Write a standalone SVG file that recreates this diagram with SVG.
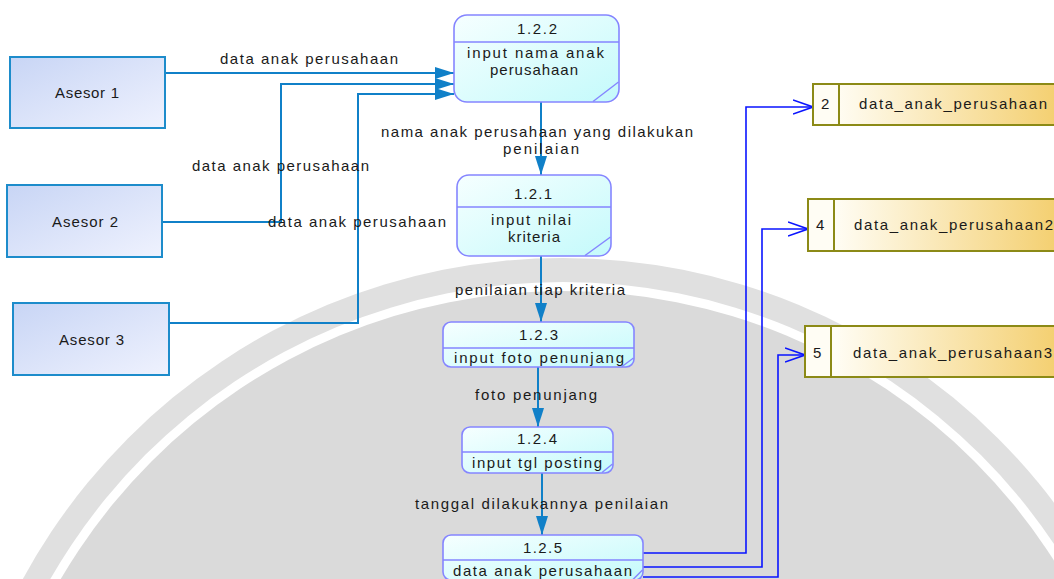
<svg xmlns="http://www.w3.org/2000/svg" width="1054" height="579" viewBox="0 0 1054 579">
  <defs>
    <style>
      text { font-family: "Liberation Sans", Arial, sans-serif; font-size: 15px; fill: #1a1a1a; }
      .ext { fill: url(#extFill); stroke: #1d8ccb; stroke-width: 2; }
      .proc { fill: url(#procFill); stroke: #8585ff; stroke-width: 1.6; }
      .procLine { stroke: #8585ff; stroke-width: 1.4; fill: none; }
      .store { fill: url(#storeFill); stroke: #8c8a16; stroke-width: 2; }
      .storeLine { stroke: #8c8a16; stroke-width: 2; }
      .flow { fill: none; stroke: #1080c8; stroke-width: 2; }
      .write { fill: none; stroke: #0a14ff; stroke-width: 1.6; }
    </style>
    <linearGradient id="extFill" x1="0" y1="0" x2="1" y2="1">
      <stop offset="0" stop-color="#c8d5f5"/>
      <stop offset="1" stop-color="#eff2fe"/>
    </linearGradient>
    <linearGradient id="procFill" x1="0" y1="0" x2="1" y2="1">
      <stop offset="0" stop-color="#f6ffff"/>
      <stop offset="1" stop-color="#c4fafb"/>
    </linearGradient>
    <linearGradient id="storeFill" gradientUnits="userSpaceOnUse" x1="835" y1="0" x2="1054" y2="0">
      <stop offset="0" stop-color="#fffdf4"/>
      <stop offset="1" stop-color="#f4d072"/>
    </linearGradient>
    <marker id="solidHead" markerUnits="userSpaceOnUse" markerWidth="20" markerHeight="14" refX="19" refY="6" orient="auto">
      <path d="M0,0 L19,6 L0,12 z" fill="#1080c8"/>
    </marker>
    <marker id="openHead" markerUnits="userSpaceOnUse" markerWidth="22" markerHeight="16" refX="20" refY="8" orient="auto">
      <path d="M0,1 L20,8 L0,15" fill="none" stroke="#0a14ff" stroke-width="1.6"/>
    </marker>
  </defs>

  <rect width="1054" height="579" fill="#ffffff"/>

  <!-- pale seal behind the chart -->
  <g id="backdrop">
    <circle cx="563" cy="873" r="615" fill="#e0e0e0"/>
    <circle cx="563" cy="873" r="591" fill="#ffffff"/>
    <circle cx="563" cy="873" r="582" fill="#dadada"/>
  </g>

  <!-- data flows -->
  <g id="connectors">
    <path class="flow" d="M165,73 H454" marker-end="url(#solidHead)"/>
    <path class="flow" d="M162,222 H281 V84 H454" marker-end="url(#solidHead)"/>
    <path class="flow" d="M169,323 H358 V94 H454" marker-end="url(#solidHead)"/>
    <path class="flow" d="M541,102 V175" marker-end="url(#solidHead)"/>
    <path class="flow" d="M541,256 V322" marker-end="url(#solidHead)"/>
    <path class="flow" d="M538,367 V427" marker-end="url(#solidHead)"/>
    <path class="flow" d="M542,473 V535" marker-end="url(#solidHead)"/>
    <path class="write" d="M643,553 H746 V107 H813" marker-end="url(#openHead)"/>
    <path class="write" d="M643,567 H762 V229 H808" marker-end="url(#openHead)"/>
    <path class="write" d="M643,577 H778 V355 H805" marker-end="url(#openHead)"/>
  </g>

  <!-- flow labels -->
  <g id="flow-labels">
    <text x="220" y="64" textLength="178" lengthAdjust="spacing">data anak perusahaan</text>
    <text x="192" y="171" textLength="177" lengthAdjust="spacing">data anak perusahaan</text>
    <text x="268" y="227" textLength="178" lengthAdjust="spacing">data anak perusahaan</text>
    <text x="381" y="137" textLength="312" lengthAdjust="spacing">nama anak perusahaan yang dilakukan</text>
    <text x="503" y="154" textLength="76" lengthAdjust="spacing">penilaian</text>
    <text x="455" y="295" textLength="170" lengthAdjust="spacing">penilaian tiap kriteria</text>
    <text x="475" y="400" textLength="122" lengthAdjust="spacing">foto penunjang</text>
    <text x="415" y="509" textLength="253" lengthAdjust="spacing">tanggal dilakukannya penilaian</text>
  </g>

  <!-- external entities -->
  <g id="asesor-1">
    <rect class="ext" x="10" y="57" width="155" height="71"/>
    <text x="55" y="98" textLength="64" lengthAdjust="spacing">Asesor 1</text>
  </g>
  <g id="asesor-2">
    <rect class="ext" x="7" y="185" width="155" height="72"/>
    <text x="52" y="227" textLength="66" lengthAdjust="spacing">Asesor 2</text>
  </g>
  <g id="asesor-3">
    <rect class="ext" x="13" y="303" width="156" height="72"/>
    <text x="59" y="345" textLength="65" lengthAdjust="spacing">Asesor 3</text>
  </g>

  <!-- processes -->
  <g id="proc-1-2-2">
    <rect class="proc" x="454" y="15" width="165" height="87" rx="13"/>
    <line class="procLine" x1="454" y1="42" x2="619" y2="42"/>
    <line class="procLine" x1="593" y1="101.5" x2="618.5" y2="82"/>
    <text x="517" y="34" textLength="40" lengthAdjust="spacing">1.2.2</text>
    <text x="467" y="58" textLength="137" lengthAdjust="spacing">input nama anak</text>
    <text x="490" y="75" textLength="88" lengthAdjust="spacing">perusahaan</text>
  </g>
  <g id="proc-1-2-1">
    <rect class="proc" x="457" y="175" width="154" height="81" rx="12"/>
    <line class="procLine" x1="457" y1="207" x2="611" y2="207"/>
    <line class="procLine" x1="585" y1="255.5" x2="610.5" y2="237"/>
    <text x="514" y="199" textLength="38" lengthAdjust="spacing">1.2.1</text>
    <text x="491" y="225" textLength="80" lengthAdjust="spacing">input nilai</text>
    <text x="508" y="242" textLength="52" lengthAdjust="spacing">kriteria</text>
  </g>
  <g id="proc-1-2-3">
    <rect class="proc" x="443" y="322" width="191" height="45" rx="8"/>
    <line class="procLine" x1="443" y1="348" x2="634" y2="348"/>
    <line class="procLine" x1="622" y1="366.5" x2="633.5" y2="358"/>
    <text x="519" y="340" textLength="39" lengthAdjust="spacing">1.2.3</text>
    <text x="454" y="363" textLength="170" lengthAdjust="spacing">input foto penunjang</text>
  </g>
  <g id="proc-1-2-4">
    <rect class="proc" x="462" y="427" width="151" height="46" rx="8"/>
    <line class="procLine" x1="462" y1="452" x2="613" y2="452"/>
    <line class="procLine" x1="602" y1="472.5" x2="612.5" y2="464"/>
    <text x="517" y="444" textLength="40" lengthAdjust="spacing">1.2.4</text>
    <text x="472" y="468" textLength="130" lengthAdjust="spacing">input tgl posting</text>
  </g>
  <g id="proc-1-2-5">
    <rect class="proc" x="443" y="535" width="200" height="45" rx="8"/>
    <line class="procLine" x1="443" y1="560" x2="643" y2="560"/>
    <line class="procLine" x1="633" y1="579.5" x2="642.5" y2="570"/>
    <text x="523" y="553" textLength="39" lengthAdjust="spacing">1.2.5</text>
    <text x="453" y="576" textLength="179" lengthAdjust="spacing">data anak perusahaan</text>
  </g>

  <!-- data stores -->
  <g id="store-2">
    <rect class="store" x="813" y="84" width="260" height="41"/>
    <line class="storeLine" x1="839" y1="84" x2="839" y2="125"/>
    <text x="821" y="109">2</text>
    <text x="859" y="109" textLength="188" lengthAdjust="spacing">data_anak_perusahaan</text>
  </g>
  <g id="store-4">
    <rect class="store" x="808" y="199" width="260" height="52"/>
    <line class="storeLine" x1="834" y1="199" x2="834" y2="251"/>
    <text x="816" y="230">4</text>
    <text x="854" y="230" textLength="199" lengthAdjust="spacing">data_anak_perusahaan2</text>
  </g>
  <g id="store-5">
    <rect class="store" x="805" y="326" width="260" height="51"/>
    <line class="storeLine" x1="831" y1="326" x2="831" y2="377"/>
    <text x="813" y="358">5</text>
    <text x="853" y="358" textLength="199" lengthAdjust="spacing">data_anak_perusahaan3</text>
  </g>
</svg>
